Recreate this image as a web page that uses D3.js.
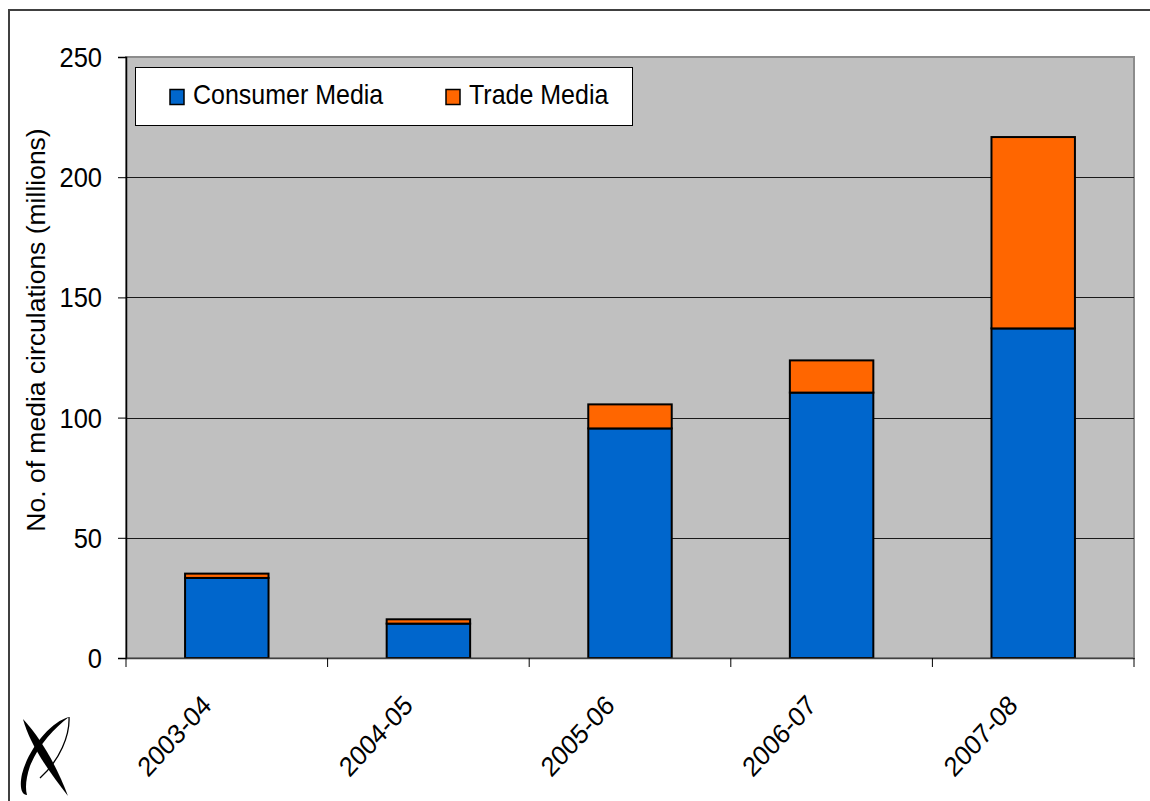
<!DOCTYPE html>
<html>
<head>
<meta charset="utf-8">
<script src="https://cdn.jsdelivr.net/npm/d3@7/dist/d3.min.js"></script>
<style>
  html, body { margin: 0; padding: 0; background: #fff; }
  svg { display: block; }
  text { font-family: Arial, "Liberation Sans", sans-serif; fill: #000; }
</style>
</head>
<body>
<svg id="chart" width="1150" height="801"></svg>
<script>
// Media circulations by year (millions)
const categories = ["2003-04", "2004-05", "2005-06", "2006-07", "2007-08"];
const consumerMedia = [33.3, 14.3, 95.5, 110.4, 137.1];
const tradeMedia = [1.8, 1.8, 10.0, 13.4, 79.6];
const seriesNames = ["Consumer Media", "Trade Media"];
const seriesColors = ["#0066cc", "#ff6600"];
const yTicks = [0, 50, 100, 150, 200, 250];
const yTitle = "No. of media circulations (millions)";

const svg = d3.select("#chart");
const plot = { left: 126, right: 1134, top: 57, bottom: 658 };
const textStretch = 1.1;

// outer frame (runs off the right and bottom edges)
svg.append("rect")
  .attr("x", 9).attr("y", 10).attr("width", 1160).attr("height", 820)
  .attr("fill", "#fff").attr("stroke", "#404040").attr("stroke-width", 2);

const x = d3.scaleBand().domain(categories).range([plot.left, plot.right]).padding(0);
const y = d3.scaleLinear().domain([0, 250]).range([plot.bottom, plot.top]);
const barW = x.bandwidth() * 0.414;

// plot background
svg.append("rect")
  .attr("x", plot.left).attr("y", plot.top)
  .attr("width", plot.right - plot.left).attr("height", plot.bottom - plot.top)
  .attr("fill", "#c0c0c0").attr("stroke", "#8c8c8c").attr("stroke-width", 2);

// gridlines
svg.append("g").selectAll("line")
  .data(yTicks.filter(v => v > 0 && v < 250))
  .join("line")
  .attr("x1", plot.left).attr("x2", plot.right)
  .attr("y1", d => Math.round(y(d)) + 0.5).attr("y2", d => Math.round(y(d)) + 0.5)
  .attr("stroke", "#1a1a1a").attr("stroke-width", 1);

// stacked bars
const rows = categories.map((c, i) => ({ cat: c, consumer: consumerMedia[i], trade: tradeMedia[i] }));
const stack = d3.stack().keys(["consumer", "trade"])(rows);
svg.append("g").selectAll("g")
  .data(stack)
  .join("g")
  .attr("fill", (d, i) => seriesColors[i])
  .selectAll("rect")
  .data(d => d)
  .join("rect")
  .attr("x", d => x(d.data.cat) + (x.bandwidth() - barW) / 2)
  .attr("y", d => y(d[1]))
  .attr("width", barW)
  .attr("height", d => y(d[0]) - y(d[1]))
  .attr("stroke", "#000").attr("stroke-width", 2);

// y axis
const yAxis = svg.append("g").attr("transform", `translate(${plot.left},0)`)
  .call(d3.axisLeft(y).tickValues(yTicks).tickSize(8).tickFormat(d3.format("d")));
yAxis.select(".domain").attr("stroke", "#000").attr("stroke-width", 1.5);
yAxis.selectAll(".tick line").attr("stroke", "#000");
yAxis.selectAll(".tick text")
  .attr("font-size", 25.5).attr("x", -24).attr("dy", null).attr("y", 0)
  .attr("dominant-baseline", "central")
  .attr("transform", `scale(1,${textStretch})`);

// x axis
const xAxis = svg.append("g").attr("transform", `translate(0,${plot.bottom})`)
  .call(d3.axisBottom(x).tickSize(0).tickFormat(""));
xAxis.select(".domain").attr("stroke", "#404040").attr("stroke-width", 1.5);
svg.append("g").selectAll("line")
  .data(d3.range(categories.length + 1))
  .join("line")
  .attr("x1", i => plot.left + i * x.step()).attr("x2", i => plot.left + i * x.step())
  .attr("y1", plot.bottom).attr("y2", plot.bottom + 9)
  .attr("stroke", "#000");

svg.append("g").selectAll("text")
  .data(categories)
  .join("text")
  .attr("transform", d => `translate(${x(d) + x.bandwidth() / 2 - 14},${plot.bottom + 49}) scale(1,${textStretch}) rotate(-45)`)
  .attr("text-anchor", "end")
  .attr("font-size", 25)
  .text(d => d);

// y title
svg.append("text")
  .attr("transform", `translate(45,330) scale(1,1.06) rotate(-90)`)
  .attr("text-anchor", "middle")
  .attr("font-size", 25)
  .text(yTitle);

// legend
const leg = svg.append("g");
leg.append("rect")
  .attr("x", 135.5).attr("y", 67.5).attr("width", 497).attr("height", 58)
  .attr("fill", "#fff").attr("stroke", "#000").attr("stroke-width", 1);
const legX = [170, 446];
seriesNames.forEach((name, i) => {
  leg.append("rect")
    .attr("x", legX[i]).attr("y", 89.5).attr("width", 14).attr("height", 15)
    .attr("fill", seriesColors[i]).attr("stroke", "#000").attr("stroke-width", 1.5);
  leg.append("text")
    .attr("transform", `translate(${legX[i] + 23},104) scale(1,${textStretch})`)
    .attr("font-size", 25)
    .text(name);
});

// logo mark
const logo = svg.append("g");
logo.append("path")
  .attr("d", "M23,719 C30,745 48,770 68,796 C58,770 44,742 23,719 Z")
  .attr("fill", "#000");
logo.append("path")
  .attr("d", "M69,717 C50,722 28,750 22,774 C19,788 22,795 27,795 C25,788 26,778 30,766 C38,746 54,728 69,717 Z")
  .attr("fill", "#000");
logo.append("path")
  .attr("d", "M69,717 C70,735 60,760 40,778")
  .attr("fill", "none").attr("stroke", "#000").attr("stroke-width", 1.3);
</script>
</body>
</html>
